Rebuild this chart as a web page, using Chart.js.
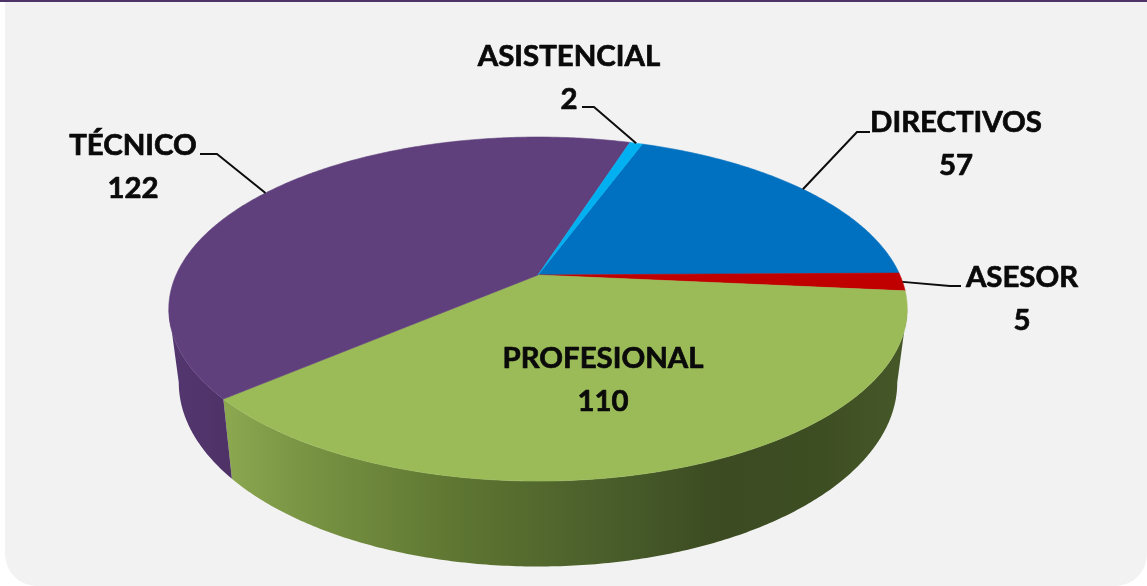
<!DOCTYPE html>
<html>
<head>
<meta charset="utf-8">
<script src="https://cdn.jsdelivr.net/npm/chart.js@4"></script>
<style>
    html, body { margin: 0; padding: 0; background: #fff; }
    #marco { position: relative; width: 1147px; height: 586px; overflow: hidden; }
    #linea { position: absolute; left: 0; top: 0; width: 1147px; height: 2px; background: #4f3368; }
    #panel { position: absolute; left: 5px; top: 2px; width: 1142px; height: 584px; background: #f2f2f2; border-radius: 0 0 32px 32px; }
    canvas { position: absolute; left: 0; top: 0; }
</style>
</head>
<body>
<div id="marco">
    <div id="linea"></div>
    <div id="panel"></div>
    <canvas id="tortaChart" width="1147" height="586"></canvas>
</div>
<script>
const categorias = ['DIRECTIVOS', 'ASESOR', 'PROFESIONAL', 'TÉCNICO', 'ASISTENCIAL'];
const valores = [57, 5, 110, 122, 2];
const colores = ['#0070c0', '#c00000', '#9bbb59', '#5f3f7c', '#00b0f0'];

// Rotulos: centro del texto, y codo de la linea guia (null = sin guia)
const rotulos = [
    { x: 956, y: 123, codo: [[857, 132], [870, 132]] },
    { x: 1022, y: 278, codo: [[950, 286], [961, 286]] },
    { x: 603, y: 359, codo: null },
    { x: 133, y: 146, codo: [[217, 154], [200, 154]] },
    { x: 569, y: 57, codo: [[594, 107], [582, 107]] }
];

// Degradados de la pared lateral (x, color)
const paredes = {
    2: [[232, '#8aa64f'], [300, '#7a9544'], [450, '#5f7732'], [600, '#4a5f2b'], [720, '#3c4b22'], [820, '#3e4e23'], [905, '#465828']],
    3: [[170, '#53366f'], [232, '#4e3266']]
};

// Perspectiva del disco: k inclina, sx/sy escalan el radio de Chart.js
const vista = { k: -0.198, sx: 1.316, sy: 0.601, baseEscX: 0.973, baseEscY: 1.07, baseDy: 71 };

function proyectar(arc, ang, base) {
    const u = Math.cos(ang), v = Math.sin(ang);
    const d = 1 + vista.k * v;
    return [
        arc.x + (base ? vista.baseEscX : 1) * arc.outerRadius * vista.sx * u / d,
        arc.y + (base ? vista.baseDy : 0) + (base ? vista.baseEscY : 1) * arc.outerRadius * vista.sy * v / d
    ];
}

function puntosArco(arc, a0, a1, base) {
    const pasos = Math.max(2, Math.ceil((a1 - a0) / 0.01));
    const pts = [];
    for (let i = 0; i <= pasos; i++) {
        pts.push(proyectar(arc, a0 + (a1 - a0) * i / pasos, base));
    }
    return pts;
}

function trazar(ctx, pts) {
    ctx.beginPath();
    pts.forEach((p, i) => i ? ctx.lineTo(p[0], p[1]) : ctx.moveTo(p[0], p[1]));
    ctx.closePath();
}

const torta3d = {
    id: 'torta3d',
    beforeDatasetDraw(chart, args) {
        const ctx = chart.ctx;
        const arcos = chart.getDatasetMeta(args.index).data;
        const muroIni = Math.asin(-vista.k);
        const muroFin = Math.PI - muroIni;

        // paredes
        arcos.forEach((arc, i) => {
            const a0 = Math.max(arc.startAngle, muroIni);
            const a1 = Math.min(arc.endAngle, muroFin);
            if (a1 <= a0 || !paredes[i]) return;
            const sup = puntosArco(arc, a0, a1, false);
            const inf = puntosArco(arc, a0, a1, true).reverse();
            const x0 = paredes[i][0][0], x1 = paredes[i][paredes[i].length - 1][0];
            const grad = ctx.createLinearGradient(x0, 0, x1, 0);
            paredes[i].forEach(s => grad.addColorStop((s[0] - x0) / (x1 - x0), s[1]));
            ctx.fillStyle = grad;
            trazar(ctx, sup.concat(inf));
            ctx.fill();
        });

        // cara superior
        arcos.forEach((arc, i) => {
            const pts = [[arc.x, arc.y]].concat(puntosArco(arc, arc.startAngle, arc.endAngle, false));
            ctx.fillStyle = colores[i];
            ctx.strokeStyle = colores[i];
            ctx.lineWidth = 0.6;
            trazar(ctx, pts);
            ctx.fill();
            ctx.stroke();
        });
        return false;
    },
    // afterDatasetDraw no corre si beforeDatasetDraw devuelve false
    afterDatasetsDraw(chart) {
        const ctx = chart.ctx;
        const arcos = chart.getDatasetMeta(0).data;
        arcos.forEach((arc, i) => {
            const r = rotulos[i];
            if (r.codo) {
                const ancla = proyectar(arc, (arc.startAngle + arc.endAngle) / 2, false);
                ctx.beginPath();
                ctx.moveTo(ancla[0], ancla[1]);
                r.codo.forEach(p => ctx.lineTo(p[0], p[1]));
                ctx.strokeStyle = '#0d0d0d';
                ctx.lineWidth = 2;
                ctx.stroke();
            }
            ctx.fillStyle = '#0a0a0a';
            ctx.strokeStyle = '#0a0a0a';
            ctx.lineWidth = 0.7;
            ctx.lineJoin = 'round';
            ctx.font = '700 29.4px Lato';
            ctx.textAlign = 'center';
            ctx.textBaseline = 'middle';
            [categorias[i], String(valores[i])].forEach((txt, n) => {
                ctx.fillText(txt, r.x, r.y + n * 43);
                ctx.strokeText(txt, r.x, r.y + n * 43);
            });
        });
    }
};

const ctxTorta = document.getElementById('tortaChart').getContext('2d');
const tortaChart = new Chart(ctxTorta, {
    type: 'pie',
    data: {
        labels: categorias,
        datasets: [{
            data: valores,
            backgroundColor: colores,
            borderWidth: 0
        }]
    },
    options: {
        responsive: false,
        rotation: 20,
        animation: false,
        layout: {
            padding: { right: 71, bottom: 36 }
        },
        plugins: {
            legend: { display: false },
            tooltip: { enabled: false }
        }
    },
    plugins: [torta3d]
});
</script>
</body>
</html>
